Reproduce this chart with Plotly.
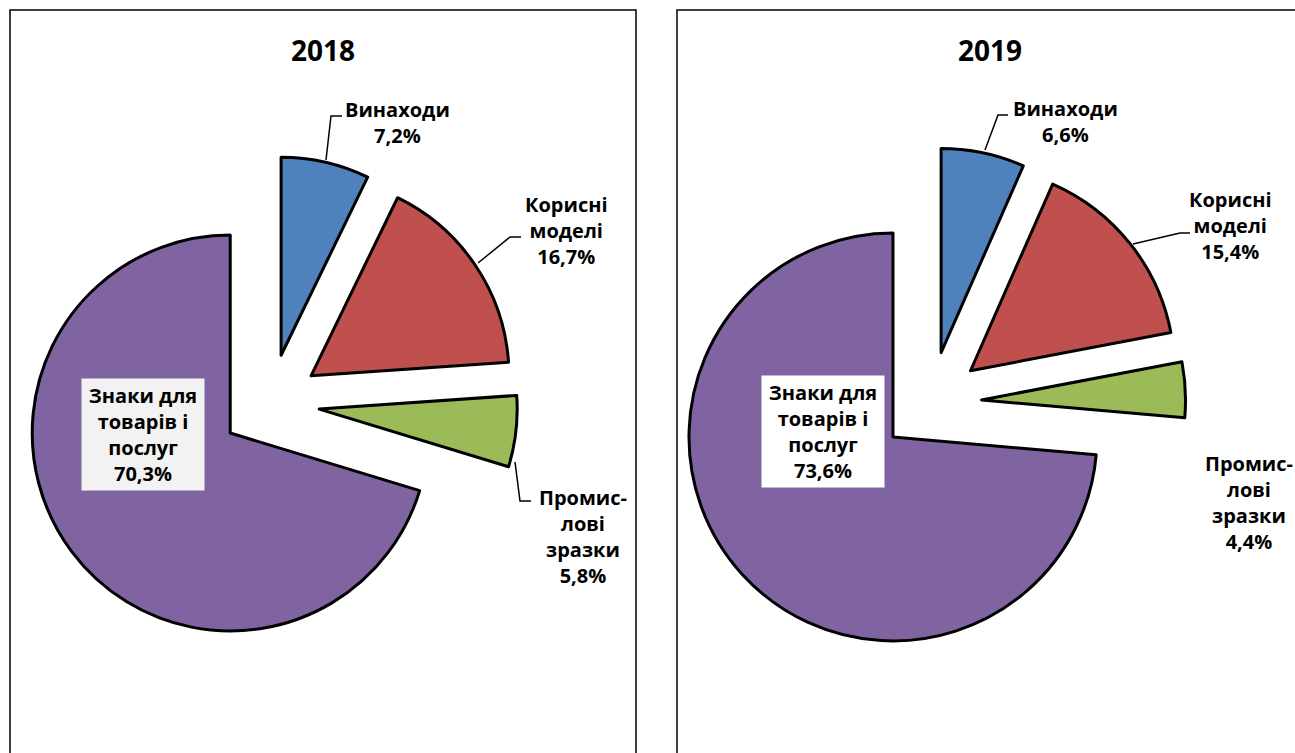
import plotly.graph_objects as go

W, H = 1295, 753

# дані
categories = ["Винаходи", "Корисні моделі", "Промислові зразки", "Знаки для товарів і послуг"]
label_lines = ["Винаходи", "Корисні<br>моделі", "Промис-<br>лові<br>зразки", "Знаки для<br>товарів і<br>послуг"]
years = ["2018", "2019"]
shares_2018 = [7.2, 16.7, 5.8, 70.3]
shares_2019 = [6.6, 15.4, 4.4, 73.6]
colors = ["#4F81BD", "#C0504D", "#9BBB59", "#8064A2"]

FONT = "Open Sans"
PULL = 0.25


def px(x):
    return x / W


def py(y):
    return 1 - y / H


def pct(v):
    return f"{v:.1f}".replace(".", ",") + "%"


# розміщення: центр і радіус кожного кола (пікселі)
panels = [
    {"year": years[0], "values": shares_2018, "cx": 270, "cy": 403.5, "r": 198,
     "frame": (10, 10, 636, 790), "title_x": 323,
     "labels": [(397, 123), (566, 231), (583, 536), (143, 434.5)],
     "big_bg": "#F2F2F2",
     "leaders": [[(326, 160), (331, 116), (342, 116)],
                 [(478, 263), (510, 237), (521, 237)],
                 [(515, 462), (520, 501), (531, 501)]]},
    {"year": years[1], "values": shares_2019, "cx": 930.6, "cy": 402.5, "r": 204,
     "frame": (677, 10, 1310, 790), "title_x": 990,
     "labels": [(1065, 122), (1230, 226), (1249, 503), (823, 431.5)],
     "big_bg": "#FFFFFF",
     "leaders": [[(985, 150), (998, 115), (1008, 115)],
                 [(1133, 244), (1180, 233), (1190, 233)]]},
]

fig = go.Figure()
shapes = []
annotations = []

for p in panels:
    half = p["r"] * (1 + PULL)
    fig.add_trace(go.Pie(
        labels=categories,
        values=p["values"],
        sort=False,
        direction="clockwise",
        rotation=0,
        pull=[PULL] * len(categories),
        marker=dict(colors=colors, line=dict(color="black", width=3)),
        textinfo="none",
        hoverinfo="label+percent",
        showlegend=False,
        domain=dict(x=[px(p["cx"] - half), px(p["cx"] + half)],
                    y=[py(p["cy"] + half), py(p["cy"] - half)]),
    ))

    x0, y0, x1, y1 = p["frame"]
    shapes.append(dict(type="rect", xref="paper", yref="paper",
                       x0=px(x0), x1=px(x1), y0=py(y1), y1=py(y0),
                       line=dict(color="black", width=1.5), layer="below"))

    annotations.append(dict(text=f"<b>{p['year']}</b>", x=px(p["title_x"]), y=py(50),
                            xref="paper", yref="paper", showarrow=False,
                            xanchor="center", yanchor="middle",
                            font=dict(family=FONT, size=28, color="black")))

    for i, (lx, ly) in enumerate(p["labels"]):
        ann = dict(text=f"<b>{label_lines[i]}<br>{pct(p['values'][i])}</b>",
                   x=px(lx), y=py(ly), xref="paper", yref="paper",
                   xanchor="center", yanchor="middle", showarrow=False, align="center",
                   font=dict(family=FONT, size=20, color="black"))
        if i == 3:
            ann.update(bgcolor=p["big_bg"], width=116, borderpad=3)
        annotations.append(ann)

    for pts in p["leaders"]:
        path = "M " + " L ".join(f"{px(a)},{py(b)}" for a, b in pts)
        shapes.append(dict(type="path", xref="paper", yref="paper", path=path,
                           line=dict(color="black", width=1.5)))

fig.update_layout(
    width=W, height=H,
    margin=dict(l=0, r=0, t=0, b=0),
    paper_bgcolor="white",
    plot_bgcolor="white",
    shapes=shapes,
    annotations=annotations,
)

fig.write_html("out.html", config={"displayModeBar": False},
               post_script="document.body.style.margin='0';")
